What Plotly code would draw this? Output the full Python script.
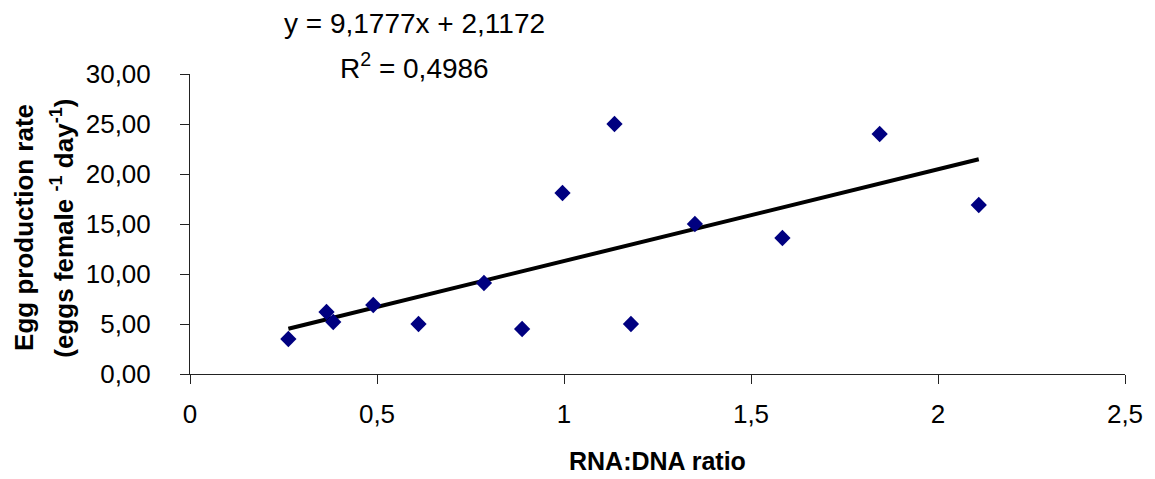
import plotly.graph_objects as go

# RNA:DNA ratio vs. egg production rate
rna_dna_ratio = [0.263, 0.365, 0.383, 0.490, 0.611, 0.786, 0.888,
                 0.996, 1.135, 1.179, 1.350, 1.584, 1.844, 2.109]
egg_production = [3.5, 6.2, 5.2, 6.9, 5.0, 9.1, 4.5,
                  18.1, 25.0, 5.0, 15.0, 13.6, 24.0, 16.9]

# Linear trendline (as reported)
slope = 9.1777
intercept = 2.1172
r_squared = 0.4986

x_ticks = [0, 0.5, 1, 1.5, 2, 2.5]
y_ticks = [0, 5, 10, 15, 20, 25, 30]

FONT = "Liberation Sans, Arial, sans-serif"

trend_x = sorted(rna_dna_ratio)
trend_y = [slope * v + intercept for v in trend_x]


def comma(v, nd):
    return f"{v:.{nd}f}".replace(".", ",")


fig = go.Figure()
fig.add_trace(go.Scatter(
    x=trend_x, y=trend_y, mode="lines",
    line=dict(color="black", width=4),
    hoverinfo="skip", showlegend=False,
))
fig.add_trace(go.Scatter(
    x=rna_dna_ratio, y=egg_production, mode="markers",
    marker=dict(symbol="diamond", size=12.5, color="#000080",
                line=dict(width=0)),
    showlegend=False,
))

axis_common = dict(
    showgrid=False, zeroline=False, showline=True,
    linecolor="#222222", linewidth=1,
    ticks="outside", ticklen=9, tickcolor="#222222", tickwidth=1,
    tickfont=dict(family=FONT, size=26, color="black"),
)

fig.update_xaxes(range=[0, 2.5], tickvals=x_ticks, ticklabelstandoff=8,
                 **axis_common)
fig.update_yaxes(range=[0, 30], tickvals=y_ticks, tickformat=".2f",
                 ticklabelstandoff=24, **axis_common)

annotations = [
    dict(text=f"y = {comma(slope, 4)}x + {comma(intercept, 4)}",
         x=0.240, y=1.167, xref="paper", yref="paper",
         xanchor="center", yanchor="middle", showarrow=False,
         font=dict(family=FONT, size=28, color="black")),
    dict(text=f"R<sup>2</sup> = {comma(r_squared, 4)}",
         x=0.240, y=1.027, xref="paper", yref="paper",
         xanchor="center", yanchor="middle", showarrow=False,
         font=dict(family=FONT, size=28, color="black")),
    dict(text="<b>RNA:DNA ratio</b>",
         x=0.5, y=-0.290, xref="paper", yref="paper",
         xanchor="center", yanchor="middle", showarrow=False,
         font=dict(family=FONT, size=25, color="black")),
    dict(text="<b>Egg production rate</b>",
         x=-0.1775, y=0.487, xref="paper", yref="paper",
         xanchor="center", yanchor="middle", textangle=-90, showarrow=False,
         font=dict(family=FONT, size=26, color="black")),
    dict(text="<b>(eggs female <sup>-1</sup> day<sup>-1</sup>)</b>",
         x=-0.136, y=0.487, xref="paper", yref="paper",
         xanchor="center", yanchor="middle", textangle=-90, showarrow=False,
         font=dict(family=FONT, size=26, color="black")),
]

fig.update_layout(
    width=1155, height=479,
    margin=dict(l=190, r=24, t=74, b=105),
    paper_bgcolor="white", plot_bgcolor="white",
    separators=",.",
    annotations=annotations,
    font=dict(family=FONT, color="black"),
)

fig.write_html("out.html")
